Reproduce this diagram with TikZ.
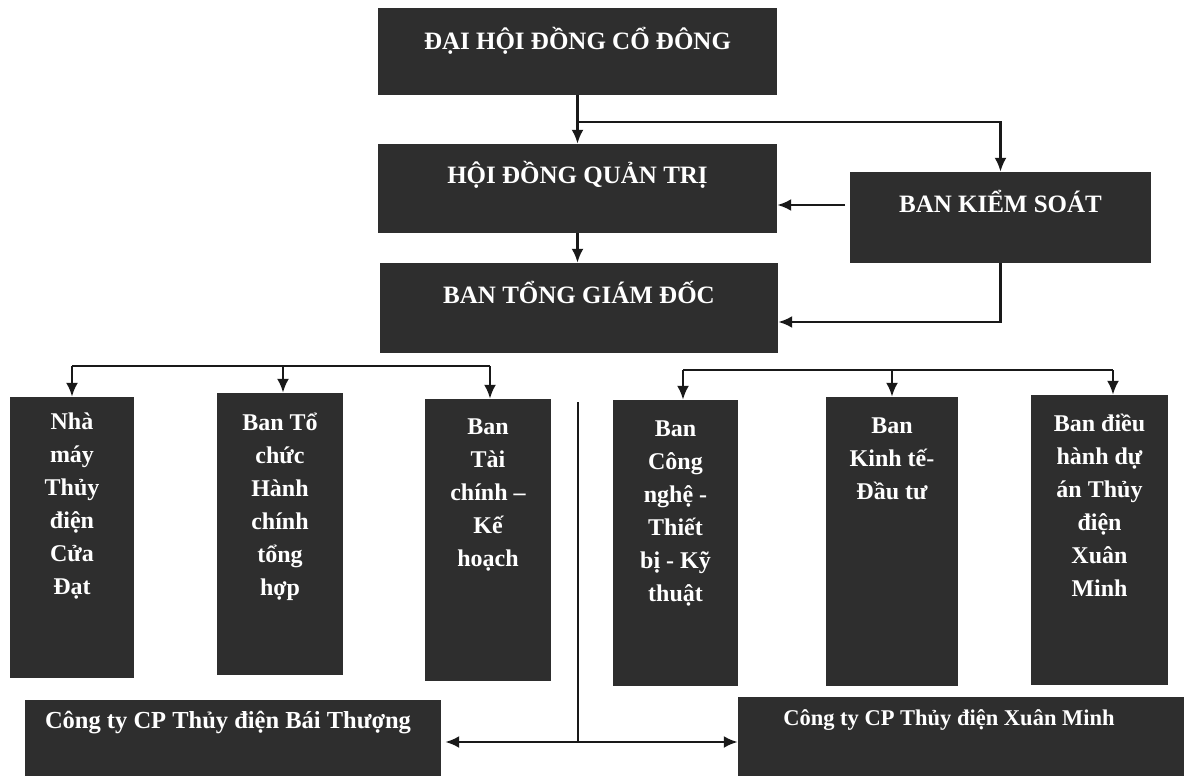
\documentclass[tikz,border=0pt]{standalone}
\usepackage{fontspec}
\setmainfont{Liberation Serif}
\usetikzlibrary{arrows.meta,calc}
\definecolor{boxgray}{HTML}{2E2E2E}
\begin{document}
\begin{tikzpicture}[x=1pt,y=-1pt,
  orgbox/.style={rectangle, fill=boxgray, draw=none, inner sep=0pt},
  boxtext/.style={text=white, font=\bfseries\fontsize{24}{33}\selectfont, align=center, inner sep=0pt},
  headtext/.style={text=white, font=\bfseries\fontsize{25}{28}\selectfont, inner sep=0pt},
  coltext/.style={boxtext, anchor=north, execute at begin node={\rule{0pt}{22pt}}},
  conn/.style={line width=2.6pt, draw=black!90},
  arr/.style={conn, -{Latex[length=14pt,width=12pt]}},
  dblarr/.style={conn, {Latex[length=14pt,width=12pt]}-{Latex[length=14pt,width=12pt]}},
]
\useasboundingbox (0,0) rectangle (1184,776);
\fill[white] (0,0) rectangle (1184,776);

% top boxes
\node[orgbox, minimum width=399pt, minimum height=87pt] (dh) at (577.5,51.5) {};
\node[headtext] (dht) at (577.5,41) {ĐẠI HỘI ĐỒNG CỔ ĐÔNG};
\node[orgbox, minimum width=399pt, minimum height=89pt] (hd) at (577.5,188.5) {};
\node[headtext] (hdt) at (577.5,175) {HỘI ĐỒNG QUẢN TRỊ};
\node[orgbox, minimum width=301pt, minimum height=91pt] (bks) at (1000.5,217.5) {};
\node[headtext] (bkst) at (1000.5,201) {BAN KIỂM SOÁT};
\node[orgbox, minimum width=398pt, minimum height=90pt] (btgd) at (579,308) {};
\node[headtext] (btgdt) at (579,292) {BAN TỔNG GIÁM ĐỐC};

% column boxes
\node[orgbox, minimum width=124pt, minimum height=281pt] (c1) at (72,537.5) {};
\node[coltext] (c1t) at (72,413) {Nhà\\máy\\Thủy\\điện\\Cửa\\Đạt};
\node[orgbox, minimum width=126pt, minimum height=282pt] (c2) at (280,534) {};
\node[coltext] (c2t) at (280,413) {Ban Tổ\\chức\\Hành\\chính\\tổng\\hợp};
\node[orgbox, minimum width=126pt, minimum height=282pt] (c3) at (488,540) {};
\node[coltext] (c3t) at (488,419) {Ban\\Tài\\chính –\\Kế\\hoạch};
\node[orgbox, minimum width=125pt, minimum height=286pt] (c4) at (675.5,543) {};
\node[coltext] (c4t) at (675.5,421) {Ban\\Công\\nghệ -\\Thiết\\bị - Kỹ\\thuật};
\node[orgbox, minimum width=132pt, minimum height=289pt] (c5) at (892,541.5) {};
\node[coltext] (c5t) at (892,418) {Ban\\Kinh tế-\\Đầu tư};
\node[orgbox, minimum width=137pt, minimum height=290pt] (c6) at (1099.5,540) {};
\node[coltext] (c6t) at (1099.5,414) {Ban điều\\hành dự\\án Thủy\\điện\\Xuân\\Minh};

% bottom boxes
\node[orgbox, minimum width=416pt, minimum height=76pt] (bt) at (233,738) {};
\node[headtext, font=\bfseries\fontsize{24.5}{28}\selectfont] (btt) at (228,723) {Công ty CP Thủy điện Bái Thượng};
\node[orgbox, minimum width=446pt, minimum height=79pt] (xm) at (961,736.5) {};
\node[headtext, font=\bfseries\fontsize{22.5}{28}\selectfont] (xmt) at (949,720) {Công ty CP Thủy điện Xuân Minh};

% connectors
\draw[arr] (dh.south) -- (hd.north);
\coordinate (j1) at (577.5,122);
\draw[arr] (j1) -| (bks.north);
\coordinate (k1) at (845,205);
\draw[arr] (k1) -- (hd.east |- k1);
\draw[arr] (hd.south) -- (hd.south |- btgd.north);
\coordinate (k2) at (1000.5,322);
\draw[arr] (bks.south) -- (k2) -- (btgd.east |- k2);

\coordinate (lL) at (72,366);
\coordinate (lM) at (283,366);
\coordinate (lR) at (490,366);
\draw[conn] (lL) -- (lR);
\draw[arr] (lL) -- (c1.north);
\draw[arr] (lM) -- (lM |- c2.north);
\draw[arr] (lR) -- (lR |- c3.north);

\coordinate (rL) at (683,370);
\coordinate (rM) at (892,370);
\coordinate (rR) at (1113,370);
\draw[conn] (rL) -- (rR);
\draw[arr] (rL) -- (rL |- c4.north);
\draw[arr] (rM) -- (rM |- c5.north);
\draw[arr] (rR) -- (rR |- c6.north);

\coordinate (v1) at (578,402);
\coordinate (v2) at (578,742);
\draw[conn] (v1) -- (v2);
\draw[dblarr] ([xshift=4pt]bt.east |- v2) -- (xm.west |- v2);
\end{tikzpicture}
\end{document}
